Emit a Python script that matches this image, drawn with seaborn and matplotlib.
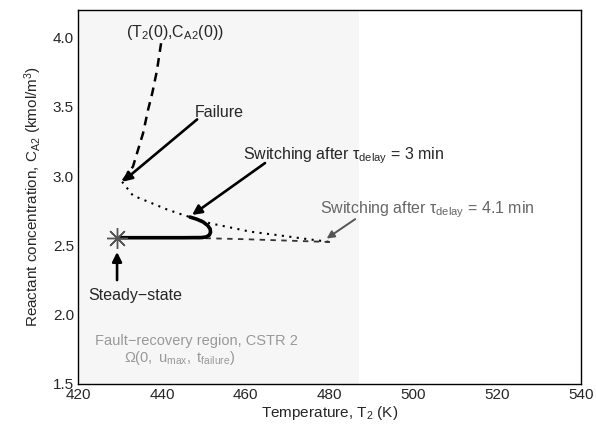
import numpy as np
import pandas as pd
import matplotlib
matplotlib.use("Agg")
import matplotlib.pyplot as plt
import seaborn as sns

# ---- data ----
# trajectory before failure (dashed)
pre_T = [439.8, 438.8, 437.7, 436.7, 435.5, 434.8, 433.1, 430.5]
pre_C = [3.96, 3.76, 3.60, 3.48, 3.31, 3.24, 3.07, 2.96]
# trajectory after failure (dotted)
post_T = [430.5, 433.1, 437.2, 441.2, 445.1, 446.7, 451.5, 456.3, 461.0, 467.5, 473.7, 480.1]
post_C = [2.96, 2.86, 2.81, 2.76, 2.72, 2.705, 2.66, 2.63, 2.60, 2.575, 2.55, 2.525]
# switching after tau = 3 min (bold solid)
sw3_T = [446.7, 448.3, 449.8, 450.9, 451.5, 451.6, 451.3, 450.6, 449.5, 445.0, 438.0, 429.3]
sw3_C = [2.705, 2.69, 2.67, 2.645, 2.62, 2.595, 2.575, 2.562, 2.557, 2.556, 2.556, 2.556]
# switching after tau = 4.1 min (dashed)
sw41_T = [480.1, 470.0, 460.0, 451.0, 440.0, 429.3]
sw41_C = [2.525, 2.535, 2.545, 2.552, 2.555, 2.556]
# steady state
ss_T, ss_C = 429.3, 2.556
# shaded fault-recovery region extent (temperature)
region_T = [420, 487]

xticks = [420, 440, 460, 480, 500, 520, 540]
yticks = [1.5, 2.0, 2.5, 3.0, 3.5, 4.0]

# ---- plotting ----
sns.set_theme(style="white")
plt.rcParams["font.family"] = ["Liberation Sans", "DejaVu Sans"]
plt.rcParams["mathtext.fontset"] = "custom"
plt.rcParams["mathtext.rm"] = "Liberation Sans"
plt.rcParams["mathtext.it"] = "Liberation Sans"

fig = plt.figure(figsize=(5.96, 4.26), dpi=100)
ax = fig.add_axes([0.131, 0.0986, 0.844, 0.878])

ax.axvspan(region_T[0], region_T[1], color="#f6f6f6", zorder=0, lw=0)

def df(T, C):
    return pd.DataFrame({"T": T, "C": C})

common = dict(x="T", y="C", sort=False, estimator=None, ax=ax)
sns.lineplot(data=df(pre_T, pre_C), color="black", lw=1.8,
             linestyle=(0, (3.5, 2.5)), **common)
sns.lineplot(data=df(post_T, post_C), color="black", lw=1.5,
             linestyle=(0, (1, 2.6)), **common)
sns.lineplot(data=df(sw41_T, sw41_C), color="#333333", lw=1.3,
             linestyle=(0, (3, 3)), **common)
sns.lineplot(data=df(sw3_T, sw3_C), color="black", lw=2.6, **common)
ax.plot([ss_T], [ss_C], marker=(8, 2, 0), markersize=15, color="#555555",
        markeredgewidth=1.0, zorder=5)

ap = dict(arrowstyle="-|>", color="black", lw=1.9, mutation_scale=14,
          shrinkA=0, shrinkB=0)
ap_g = dict(arrowstyle="-|>", color="#555555", lw=1.4, mutation_scale=11,
            shrinkA=0, shrinkB=0)

ax.annotate("", xy=(430.6, 2.96), xytext=(448.4, 3.41), arrowprops=ap)
ax.annotate("", xy=(447.2, 2.72), xytext=(464.6, 3.095), arrowprops=ap)
ax.annotate("", xy=(479.3, 2.55), xytext=(486.1, 2.69), arrowprops=ap_g)
ax.annotate("", xy=(429.3, 2.453), xytext=(429.3, 2.25), arrowprops=ap)

fs = 11.5
ax.text(443.2, 4.04, r"(T$_2$(0),C$_{A2}$(0))", fontsize=fs, ha="center", va="center")
ax.text(447.9, 3.46, "Failure", fontsize=fs, ha="left", va="center")
ax.text(459.4, 3.15, r"Switching after $\tau_{\mathrm{delay}}$ = 3 min", fontsize=fs,
        ha="left", va="center")
ax.text(477.8, 2.756, r"Switching after $\tau_{\mathrm{delay}}$ = 4.1 min", fontsize=fs,
        ha="left", va="center", color="#666666")
ax.text(433.6, 2.142, "Steady\u2212state", fontsize=fs, ha="center", va="center")
ax.text(424.1, 1.81, "Fault\u2212recovery region, CSTR 2", fontsize=10.5,
        ha="left", va="center", color="#999999")
ax.text(431.0, 1.69, r"$\Omega(0,\ u_{max},\ t_{failure})$", fontsize=10.5,
        ha="left", va="center", color="#999999")

ax.set_xlim(420, 540)
ax.set_ylim(1.5, 4.2)
ax.set_xticks(xticks)
ax.set_yticks(yticks)
ax.set_xticklabels([str(t) for t in xticks])
ax.set_yticklabels([f"{t:.1f}" for t in yticks])
ax.tick_params(axis="both", labelsize=11, direction="in", length=2, pad=3)
ax.set_xlabel(r"Temperature, T$_2$ (K)", fontsize=11, labelpad=1)
ax.set_ylabel(r"Reactant concentration, C$_{A2}$ (kmol/m$^3$)", fontsize=11, labelpad=6)
for s in ax.spines.values():
    s.set_visible(True)
    s.set_color("black")
    s.set_linewidth(1.0)

fig.savefig("out.png", dpi=100)
